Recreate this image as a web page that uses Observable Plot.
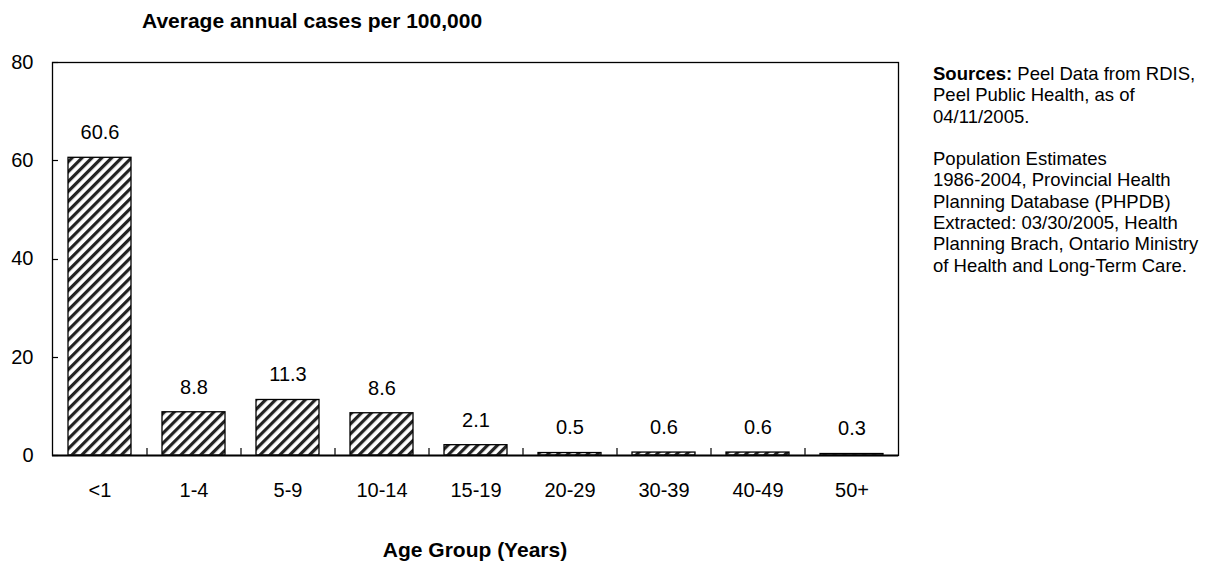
<!DOCTYPE html>
<html><head><meta charset="utf-8">
<script src="https://cdn.jsdelivr.net/npm/d3@7"></script>
<script src="https://cdn.jsdelivr.net/npm/@observablehq/plot@0.6"></script>
<style>
body{margin:0;background:#fff;font-family:"Liberation Sans",Arial,sans-serif;}
#wrap{position:relative;width:1212px;height:561px;}
.t{position:absolute;color:#000;white-space:nowrap;}
#title{left:142px;top:10px;font-weight:bold;font-size:21px;line-height:21px;}
#xtitle{left:0;width:950px;text-align:center;top:539px;font-weight:bold;font-size:21px;line-height:21px;}
#src{left:933px;top:63px;font-size:18.5px;line-height:21.3px;}
#src p{margin:0 0 21.3px 0;}
</style></head>
<body><div id="wrap">
<div id="chart"></div>
<div class="t" id="title">Average annual cases per 100,000</div>
<div class="t" id="xtitle">Age Group (Years)</div>
<div class="t" id="src"><p><b>Sources:</b> Peel Data from RDIS,<br>Peel Public Health, as of<br>04/11/2005.</p><p>Population Estimates<br>1986-2004, Provincial Health<br>Planning Database (PHPDB)<br>Extracted: 03/30/2005, Health<br>Planning Brach, Ontario Ministry<br>of Health and Long-Term Care.</p></div>
</div>
<script>
const ageGroups = ["<1","1-4","5-9","10-14","15-19","20-29","30-39","40-49","50+"];
const rates = [60.6, 8.8, 11.3, 8.6, 2.1, 0.5, 0.6, 0.6, 0.3];
const yTicks = [0, 20, 40, 60, 80];

const data = ageGroups.map((g, i) => ({group: g, rate: rates[i]}));
const step = (1212 - 52 - 314) / ageGroups.length;

// inward-pointing y ticks, positioned through Plot's y scale
function innerYTicks(index, scales, values, dims) {
  const g = d3.create("svg:g").attr("stroke", "#000").attr("stroke-width", 1.2);
  for (const v of yTicks) {
    const y = Math.round(scales.y(v)) + 0.5;
    g.append("line").attr("x1", dims.marginLeft).attr("x2", dims.marginLeft + 6).attr("y1", y).attr("y2", y);
  }
  return g.node();
}

const chart = Plot.plot({
  width: 1212, height: 561,
  marginLeft: 52, marginRight: 314, marginTop: 62, marginBottom: 106,
  style: {fontFamily: '"Liberation Sans", Arial, sans-serif', fontSize: "20px", color: "#000", background: "#fff"},
  x: {domain: ageGroups, paddingInner: 0.33, paddingOuter: 0.165, label: null},
  y: {domain: [0, 80], ticks: yTicks, label: null},
  marks: [
    Plot.barY(data, {x: "group", y: "rate", fill: "url(#hatch)", stroke: "#000", strokeWidth: 1.3}),
    Plot.text(data, {x: "group", y: "rate", text: d => d.rate.toFixed(1), dy: -25, fontSize: 20, fill: "#000"}),
    Plot.ruleX(ageGroups.slice(1), {x: d => d, dx: -step / 2, y1: 0, y2: 1.4, stroke: "#000", strokeWidth: 1.2}),
    Plot.axisY({ticks: yTicks, tickSize: 0, tickPadding: 19, fontSize: 20, label: null}),
    innerYTicks,
    Plot.axisX({tickSize: 0, tickPadding: 27, fontSize: 20, label: null}),
    Plot.ruleY([0], {stroke: "#222", strokeWidth: 2}),
    Plot.frame({stroke: "#000", strokeWidth: 1.3})
  ]
});
const ns = "http://www.w3.org/2000/svg";
const defs = document.createElementNS(ns, "defs");
const pat = document.createElementNS(ns, "pattern");
pat.setAttribute("id", "hatch");
pat.setAttribute("patternUnits", "userSpaceOnUse");
pat.setAttribute("width", "7");
pat.setAttribute("height", "7");
pat.setAttribute("patternTransform", "rotate(45)");
const bg = document.createElementNS(ns, "rect");
bg.setAttribute("width", "7"); bg.setAttribute("height", "7"); bg.setAttribute("fill", "#fff");
const ln = document.createElementNS(ns, "rect");
ln.setAttribute("x", "0"); ln.setAttribute("width", "3.2"); ln.setAttribute("height", "7"); ln.setAttribute("fill", "#222");
pat.appendChild(bg); pat.appendChild(ln); defs.appendChild(pat);
chart.insertBefore(defs, chart.firstChild);
document.getElementById("chart").appendChild(chart);
</script>
</body></html>
